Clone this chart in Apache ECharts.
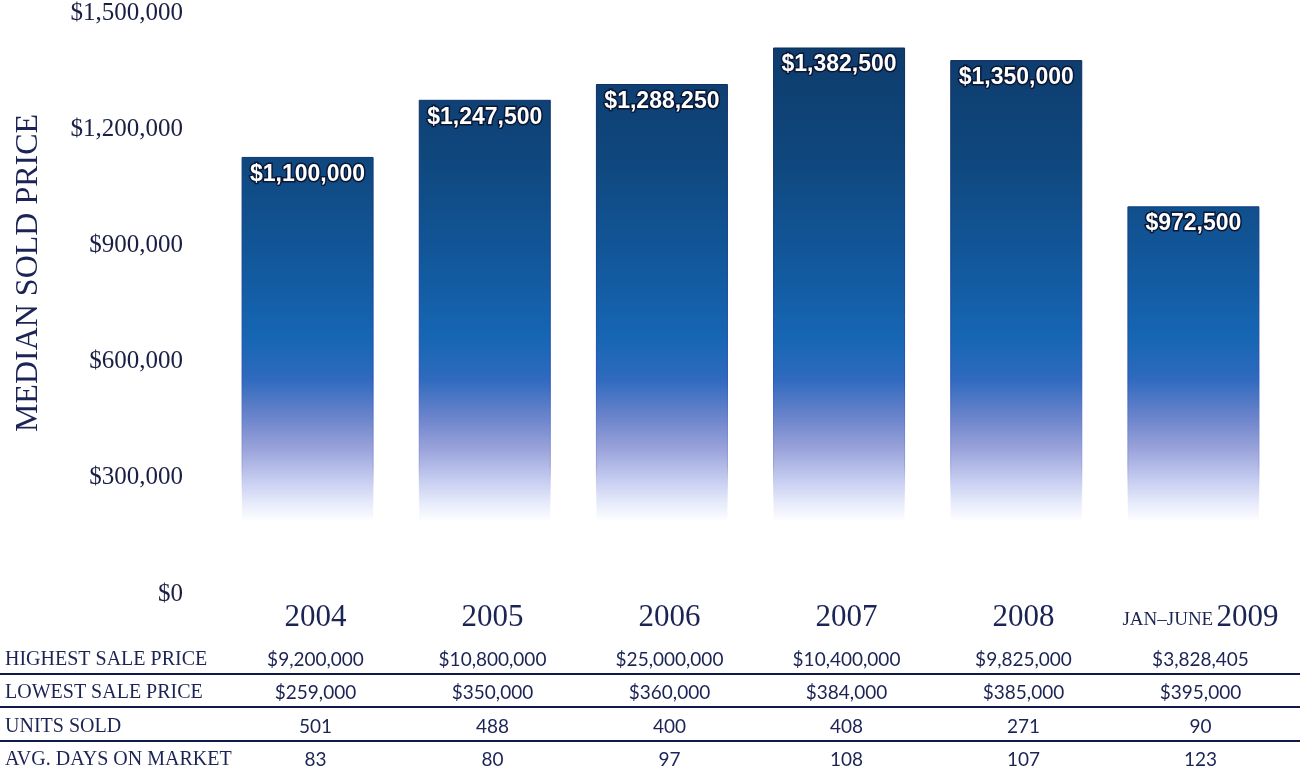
<!DOCTYPE html>
<html>
<head>
<meta charset="utf-8">
<script src="https://cdn.jsdelivr.net/npm/echarts@6/dist/echarts.min.js"></script>
<style>
  html, body { margin: 0; padding: 0; background: #fff; }
  #chart { width: 1300px; height: 773px; }
</style>
</head>
<body>
<div id="chart"></div>
<script>
// ---- data ----
var categories = ['2004', '2005', '2006', '2007', '2008', 'JAN–JUNE 2009'];
var medianSoldPrice = [1100000, 1247500, 1288250, 1382500, 1350000, 972500];
var highestSalePrice = [9200000, 10800000, 25000000, 10400000, 9825000, 3828405];
var lowestSalePrice = [259000, 350000, 360000, 384000, 385000, 395000];
var unitsSold = [501, 488, 400, 408, 271, 90];
var avgDaysOnMarket = [83, 80, 97, 108, 107, 123];
var rowNames = ['HIGHEST SALE PRICE', 'LOWEST SALE PRICE', 'UNITS SOLD', 'AVG. DAYS ON MARKET'];
var yAxisTitle = 'MEDIAN SOLD PRICE';
var yMin = 0, yMax = 1500000, yStep = 300000;

function commas(n) { return String(n).replace(/\B(?=(\d{3})+(?!\d))/g, ','); }
function money(n) { return '$' + commas(n); }

var NAVY = '#1c2455';
var SERIF = '"Liberation Serif", "DejaVu Serif", serif';
var SANS = 'Lato, "Noto Sans", sans-serif';

var chart = echarts.init(document.getElementById('chart'), null, { renderer: 'canvas' });

var fillGrad = {
  type: 'linear', x: 0, y: 0, x2: 0, y2: 583, global: true,
  colorStops: [
    { offset: 0.00, color: '#0d3462' },
    { offset: 0.07, color: '#0e3b6b' },
    { offset: 0.27, color: '#0f477d' },
    { offset: 0.45, color: '#12589c' },
    { offset: 0.58, color: '#1666b4' },
    { offset: 0.65, color: '#2f6abe' },
    { offset: 0.72, color: '#6f86cc' },
    { offset: 0.77, color: '#9aa3da' },
    { offset: 0.82, color: '#c3caef' },
    { offset: 0.865, color: '#e8ecfb' },
    { offset: 0.895, color: '#ffffff' },
    { offset: 1.00, color: '#ffffff' }
  ]
};
var borderGrad = {
  type: 'linear', x: 0, y: 0, x2: 0, y2: 583, global: true,
  colorStops: [
    { offset: 0.00, color: '#0a2450' },
    { offset: 0.45, color: '#12408e' },
    { offset: 0.65, color: '#2a50b8' },
    { offset: 0.80, color: '#9aa3da' },
    { offset: 0.88, color: 'rgba(255,255,255,0)' },
    { offset: 1.00, color: 'rgba(255,255,255,0)' }
  ]
};

var tableRows = [
  { data: categories, offset: 35, isYear: true },
  { data: highestSalePrice.map(money), offset: 77 },
  { data: lowestSalePrice.map(money), offset: 110 },
  { data: unitsSold.map(String), offset: 144 },
  { data: avgDaysOnMarket.map(String), offset: 177 }
];

var xAxes = [{
  type: 'category', gridIndex: 0, data: categories,
  axisLine: { show: false }, axisTick: { show: false }, axisLabel: { show: false }
}];
tableRows.forEach(function (r) {
  xAxes.push({
    type: 'category', gridIndex: 1, data: r.data, position: 'bottom', offset: r.offset,
    axisLine: { show: false }, axisTick: { show: false }, splitLine: { show: false },
    axisLabel: r.isYear ? {
      margin: 0, verticalAlign: 'middle', interval: 0,
      formatter: function (v) {
        var m = v.match(/^(.*?)\s*(\d{4})$/);
        if (m && m[1]) return '{sc|' + m[1] + '} {yr|' + m[2] + '}';
        return '{yr|' + v + '}';
      },
      rich: {
        yr: { fontFamily: SERIF, fontSize: 31, color: NAVY },
        sc: { fontFamily: SERIF, fontSize: 19, color: NAVY, padding: [5, 0, 0, 0] }
      }
    } : {
      margin: 0, verticalAlign: 'middle', interval: 0,
      fontFamily: SANS, fontSize: 19, color: NAVY
    }
  });
});

var graphics = [{
  type: 'text', x: 29, y: 273, rotation: Math.PI / 2,
  style: { text: yAxisTitle, fill: NAVY, font: '32px ' + SERIF, textAlign: 'center', textVerticalAlign: 'middle' }
}];
var rowY = [660, 693, 727, 760];
rowNames.forEach(function (name, i) {
  graphics.push({
    type: 'text', x: 5, y: rowY[i],
    style: { text: name, fill: NAVY, font: '20px ' + SERIF, textAlign: 'left', textVerticalAlign: 'middle' }
  });
});
[674, 707, 741].forEach(function (y) {
  graphics.push({
    type: 'line', shape: { x1: 0, y1: y, x2: 1300, y2: y },
    style: { stroke: '#101a4a', lineWidth: 2 }
  });
});

chart.setOption({
  animation: false,
  backgroundColor: '#ffffff',
  grid: [
    { left: 219, right: 18, top: 2, bottom: 190, outerBoundsMode: 'none', containLabel: false },
    { left: 227, right: 11, top: 2, bottom: 190, outerBoundsMode: 'none', containLabel: false }
  ],
  xAxis: xAxes,
  yAxis: [{
    type: 'value', gridIndex: 0, min: yMin, max: yMax, interval: yStep,
    axisLine: { show: false }, axisTick: { show: false }, splitLine: { show: false },
    axisLabel: {
      margin: 36, fontFamily: SERIF, fontSize: 25, color: '#1b1f45',
      verticalAlign: 'top', lineHeight: 22,
      formatter: function (v) { return money(v); }
    }
  }, {
    type: 'value', gridIndex: 1, show: false, min: 0, max: 1
  }],
  series: [{
    type: 'bar', xAxisIndex: 0, yAxisIndex: 0,
    data: medianSoldPrice,
    barWidth: 132,
    itemStyle: { color: fillGrad, borderColor: borderGrad, borderWidth: 1 },
    label: {
      show: true, position: 'insideTop', distance: 6,
      formatter: function (p) { return money(p.value); },
      fontFamily: '"Liberation Sans", Arial, sans-serif', fontWeight: 'bold', fontSize: 23,
      color: '#ffffff', textBorderColor: '#0a1836', textBorderWidth: 3
    }
  }],
  graphic: graphics
});
</script>
</body>
</html>
